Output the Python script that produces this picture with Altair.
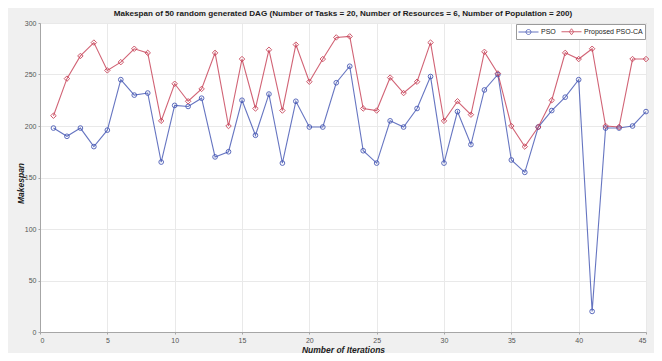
import altair as alt
import pandas as pd

iterations = [1, 2, 3, 4, 5, 6, 7, 8, 9, 10, 11, 12, 13, 14, 15, 16, 17, 18, 19, 20, 21, 22,
              23, 24, 25, 26, 27, 28, 29, 30, 31, 32, 33, 34, 35, 36, 37, 38, 39, 40, 41, 42,
              43, 44, 45]
pso = [198, 190, 198, 180, 196, 245, 230, 232, 165, 220, 219, 227, 170, 175, 225, 191, 231,
       164, 224, 199, 199, 242, 258, 176, 164, 205, 199, 217, 248, 164, 214, 182, 235, 250,
       167, 155, 199, 215, 228, 245, 20, 198, 198, 200, 214]
pso_ca = [210, 246, 268, 281, 254, 262, 275, 271, 205, 241, 224, 236, 271, 200, 265, 217, 274,
          215, 279, 243, 265, 286, 287, 217, 215, 247, 232, 243, 281, 205, 224, 211, 272, 251,
          200, 180, 199, 225, 271, 265, 275, 200, 199, 265, 265]
series_names = ["PSO", "Proposed PSO-CA"]
series_colors = ["#4052b2", "#c63c52"]
x_ticks = [0, 5, 10, 15, 20, 25, 30, 35, 40, 45]
y_ticks = [0, 50, 100, 150, 200, 250, 300]

rows = []
for name, vals in zip(series_names, [pso, pso_ca]):
    for it, v in zip(iterations, vals):
        rows.append({"iteration": it, "makespan": v, "series": name})
df = pd.DataFrame(rows)

FONT = "Liberation Sans"

# legend glyphs: a short line with the series marker in its middle
legend_paths = [
    "M-1,0H3M1.5,0A0.5,0.5,0,1,1,0.5,0A0.5,0.5,0,1,1,1.5,0",
    "M-1,0H3M1,-0.6L1.45,0L1,0.6L0.55,0Z",
]

cscale = alt.Scale(domain=series_names, range=series_colors)

leg = alt.Legend(title=None, orient="none", legendX=476, legendY=1, direction="horizontal",
                 columns=2, fillColor="white", strokeColor="#9a9a9a", padding=2,
                 symbolSize=100, symbolStrokeWidth=1, symbolFillColor="transparent",
                 labelFontSize=7, labelFont=FONT,
                 labelColor="#222222", columnPadding=3, labelOffset=12, cornerRadius=0)

base = alt.Chart(df).encode(
    x=alt.X("iteration:Q",
            scale=alt.Scale(domain=[0, 45], nice=False, zero=False),
            axis=alt.Axis(values=x_ticks, title="Number of Iterations", format="d")),
    y=alt.Y("makespan:Q",
            scale=alt.Scale(domain=[0, 300], nice=False),
            axis=alt.Axis(values=y_ticks, title="Makespan", format="d",
                          titleX=-15, titleY=160)),
    color=alt.Color("series:N", scale=cscale, legend=leg),
)

lines = base.mark_line(strokeWidth=1.1, opacity=0.8).encode(detail="series:N")

pts_pso = base.transform_filter(alt.datum.series == "PSO").mark_point(
    shape="circle", size=22, filled=False, strokeWidth=1, opacity=0.85
)

pts_ca = base.transform_filter(alt.datum.series == "Proposed PSO-CA").mark_point(
    shape="diamond", size=30, filled=False, strokeWidth=1, opacity=0.85
)

legend_layer = base.transform_filter("datum.iteration < 0").mark_point(
    filled=False, strokeWidth=1
).encode(
    shape=alt.Shape("series:N", scale=alt.Scale(domain=series_names, range=legend_paths),
                    legend=leg),
)

chart = alt.layer(lines, pts_pso, pts_ca, legend_layer).properties(
    width=606,
    height=309,
    autosize=alt.AutoSizeParams(type="none"),
    padding={"left": 32, "top": 15, "right": 8, "bottom": 21},
    background="#f0f0f0",
    title=alt.TitleParams(
        "Makespan of 50 random generated DAG (Number of Tasks = 20, Number of Resources = 6, Number of Population = 200)",
        font=FONT, fontSize=8.1, fontWeight="bold", color="#1a1a1a", anchor="middle",
        offset=1),
).configure_view(
    fill="white", stroke="#a6a6a6", strokeWidth=1
).configure_axis(
    labelFont=FONT, labelFontSize=7, labelColor="#555555",
    titleFont=FONT, titleFontSize=8.5, titleFontWeight="bold", titleFontStyle="italic",
    titleColor="#222222",
    domainColor="#a6a6a6", gridColor="#e9e9e9", gridWidth=1,
    tickColor="#a6a6a6", tickSize=2, labelPadding=2,
).configure_axisX(
    titlePadding=2
)

chart.save("out.html", embed_options={"renderer": "svg", "actions": False})
